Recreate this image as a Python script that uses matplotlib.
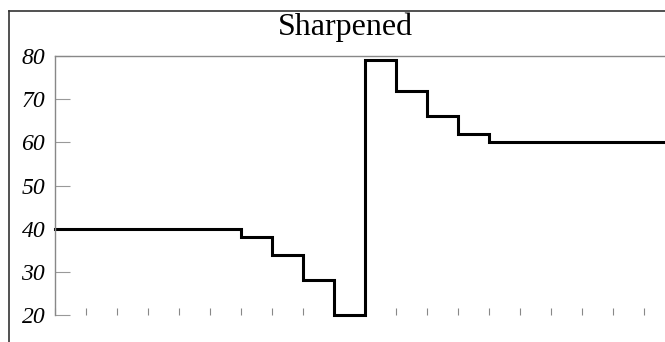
import matplotlib
matplotlib.use("Agg")
import matplotlib.pyplot as plt
from matplotlib.lines import Line2D

# data
x_edges = list(range(0, 20))
values = [40, 40, 40, 40, 40, 40, 38, 34, 28, 20, 79, 72, 66, 62, 60, 60, 60, 60, 60, 60]
y_ticks = [20, 30, 40, 50, 60, 70, 80]
title = "Sharpened"

fig = plt.figure(figsize=(6.65, 3.42), dpi=100)
ax = fig.add_axes([55/665, 1-315/342, 1-55/665, (315-56)/342])

xs = x_edges + [19.7]
ys = values + [values[-1]]
ax.step(xs, ys, where='post', color='black', lw=2.2, solid_joinstyle='miter', clip_on=False)

ax.set_xlim(0, 19.68)
ax.set_ylim(20, 80)
ax.set_xticks(x_edges)
ax.set_xticklabels([])
ax.tick_params(axis='x', direction='in', length=5, width=0.8, color='#888888')
ax.set_yticks(y_ticks)
ax.set_yticklabels([str(v) for v in y_ticks], fontfamily='Liberation Serif', fontstyle='italic', fontsize=17)
ax.tick_params(axis='y', direction='in', length=11, width=0.8, color='#999999', pad=7)
for s in ['right', 'bottom']:
    ax.spines[s].set_visible(False)
for s in ['left', 'top']:
    ax.spines[s].set_color('#888888')
    ax.spines[s].set_linewidth(1.0)

fig.text(345/665, 1-35/342, title, ha='center', va='baseline', fontfamily='Liberation Serif', fontsize=23)

# outer frame (left and top)
fig.add_artist(Line2D([9/665, 9/665], [0, 1-11/342], transform=fig.transFigure, color='#333333', lw=1.2))
fig.add_artist(Line2D([9/665, 1], [1-11/342, 1-11/342], transform=fig.transFigure, color='#333333', lw=1.2))

fig.savefig("out.png", dpi=100)
